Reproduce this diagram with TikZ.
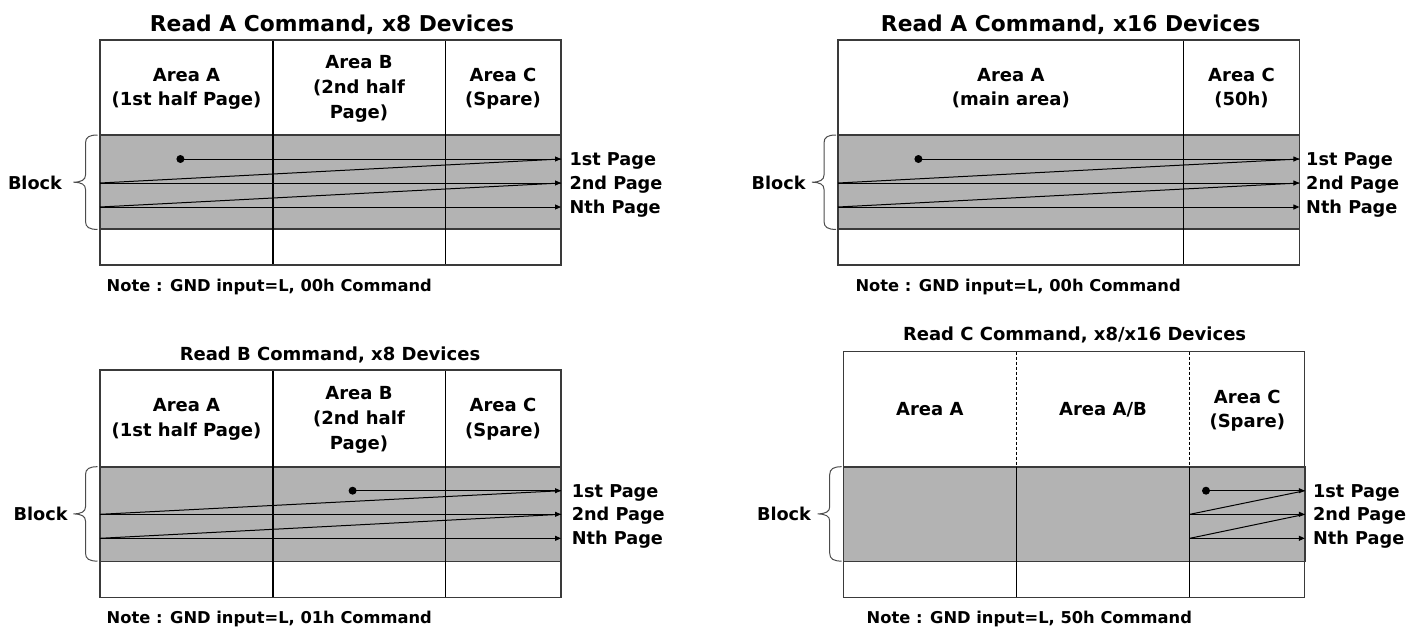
\documentclass[tikz,border=0pt]{standalone}
\usepackage{fontspec}
\setmainfont{DejaVu Sans}
\usetikzlibrary{arrows.meta}
\definecolor{bandgray}{HTML}{B3B3B3}
\definecolor{edgegray}{HTML}{3A3A3A}
\begin{document}
\begin{tikzpicture}[x=1pt,y=-1pt,
  ttl/.style={font=\fontsize{21.8}{24}\selectfont\bfseries, anchor=base, inner sep=0},
  sttl/.style={font=\fontsize{18}{20}\selectfont\bfseries, anchor=base, inner sep=0},
  lbl/.style={font=\fontsize{18}{20}\selectfont\bfseries, anchor=base, inner sep=0},
  pg/.style={font=\fontsize{17.7}{20}\selectfont\bfseries, anchor=base west, inner sep=0},
  blk/.style={font=\fontsize{17.7}{20}\selectfont\bfseries, anchor=base, inner sep=0},
  note/.style={font=\fontsize{16.3}{18}\selectfont\bfseries, anchor=base west, inner sep=0},
  band/.style={fill=bandgray, draw=edgegray, line width=1.6pt},
  frame/.style={draw=edgegray, line width=1.2pt},
  col/.style={draw=black, line width=1.1pt},
  dcol/.style={draw=black, line width=0.9pt, dash pattern=on 3pt off 2pt},
  trace/.style={draw=black, line width=1pt},
  arr/.style={trace, -{Triangle[length=6pt,width=5pt]}},
  dotn/.style={circle, fill=black, inner sep=0, minimum size=8pt},
  brc/.style={draw=black!70, line width=1pt},
  brace/.pic={\draw[brc] (0,0) .. controls (-8,0) and (-12,2) .. (-12,8) -- (-12,40)
     .. controls (-12,45) and (-16,47) .. (-24,47.2)
     .. controls (-16,47.4) and (-12,49.4) .. (-12,54.4) -- (-12,86.4)
     .. controls (-12,92.4) and (-8,94.4) .. (0,94.4);},
]
\useasboundingbox (0,0) rectangle (1427,632);

% ================= Top-left: Read A, x8 =================
\node[ttl] (t1) at (332,31) {Read A Command, x8 Devices};
\draw[band] (100,135) rectangle (561,229);
\draw[col] (273,40) -- (273,265);
\draw[col] (445.5,40) -- (445.5,265);
\draw[frame] (100,40) rectangle (561,265);
\node[lbl] (a1a) at (186.5,81) {Area A};
\node[lbl] (a1b) at (186.5,105.5) {(1st half Page)};
\node[lbl] (b1a) at (359,68.6) {Area B};
\node[lbl] (b1b) at (359,93.6) {(2nd half};
\node[lbl] (b1c) at (359,118.6) {Page)};
\node[lbl] (c1a) at (503,81) {Area C};
\node[lbl] (c1b) at (503,105.5) {(Spare)};
\node[dotn] (d1) at (180.4,159) {};
\coordinate (e1a) at (561,159);
\coordinate (e1b) at (561,183);
\coordinate (e1c) at (561,207);
\coordinate (s1b) at (100,183);
\coordinate (s1c) at (100,207);
\draw[arr] (d1.center) -- (e1a);
\draw[trace] (s1b) -- (e1a);
\draw[arr] (s1b) -- (e1b);
\draw[trace] (s1c) -- (e1b);
\draw[arr] (s1c) -- (e1c);
\node[pg] (p1a) at (569.3,165.5) {1st Page};
\node[pg] (p1b) at (569.3,189.5) {2nd Page};
\node[pg] (p1c) at (569.3,213.5) {Nth Page};
\pic at (97.5,135) {brace};
\node[blk] (k1) at (35,189.2) {Block};
\node[note] (n1) at (106.5,291.6) {Note : GND input=L, 00h Command};

% ================= Top-right: Read A, x16 =================
\node[ttl] (t2) at (1070.6,31) {Read A Command, x16 Devices};
\draw[band] (838,135) rectangle (1299.4,229);
\draw[col] (1183.5,40) -- (1183.5,265);
\draw[frame] (838,40) rectangle (1299.4,265);
\node[lbl] (a2a) at (1010.8,81) {Area A};
\node[lbl] (a2b) at (1010.8,105.5) {(main area)};
\node[lbl] (c2a) at (1241.5,81) {Area C};
\node[lbl] (c2b) at (1241.5,105.5) {(50h)};
\node[dotn] (d2) at (918.4,159) {};
\coordinate (e2a) at (1299.4,159);
\coordinate (e2b) at (1299.4,183);
\coordinate (e2c) at (1299.4,207);
\coordinate (s2b) at (838,183);
\coordinate (s2c) at (838,207);
\draw[arr] (d2.center) -- (e2a);
\draw[trace] (s2b) -- (e2a);
\draw[arr] (s2b) -- (e2b);
\draw[trace] (s2c) -- (e2b);
\draw[arr] (s2c) -- (e2c);
\node[pg] (p2a) at (1306,165.5) {1st Page};
\node[pg] (p2b) at (1306,189.5) {2nd Page};
\node[pg] (p2c) at (1306,213.5) {Nth Page};
\pic at (836,135) {brace};
\node[blk] (k2) at (778.6,189.2) {Block};
\node[note] (n2) at (855.3,291.6) {Note : GND input=L, 00h Command};

% ================= Bottom-left: Read B, x8 =================
\node[sttl] (t3) at (330,360) {Read B Command, x8 Devices};
\draw[band] (100,466.7) rectangle (561,561.3);
\draw[col] (273,370) -- (273,597.3);
\draw[col] (445.5,370) -- (445.5,597.3);
\draw[frame] (100,370) rectangle (561,597.3);
\node[lbl] (a3a) at (186.5,411.5) {Area A};
\node[lbl] (a3b) at (186.5,436.5) {(1st half Page)};
\node[lbl] (b3a) at (359,399.2) {Area B};
\node[lbl] (b3b) at (359,424.2) {(2nd half};
\node[lbl] (b3c) at (359,449.2) {Page)};
\node[lbl] (c3a) at (503,411.5) {Area C};
\node[lbl] (c3b) at (503,436.5) {(Spare)};
\node[dotn] (d3) at (352.6,490.7) {};
\coordinate (e3a) at (561,490.7);
\coordinate (e3b) at (561,514.3);
\coordinate (e3c) at (561,538.3);
\coordinate (s3b) at (100,514.3);
\coordinate (s3c) at (100,538.3);
\draw[arr] (d3.center) -- (e3a);
\draw[trace] (s3b) -- (e3a);
\draw[arr] (s3b) -- (e3b);
\draw[trace] (s3c) -- (e3b);
\draw[arr] (s3c) -- (e3c);
\node[pg] (p3a) at (571.6,497.2) {1st Page};
\node[pg] (p3b) at (571.6,520.8) {2nd Page};
\node[pg] (p3c) at (571.6,544.8) {Nth Page};
\pic at (97.5,466.7) {brace};
\node[blk] (k3) at (40.6,520.8) {Block};
\node[note] (n3) at (106.5,623.6) {Note : GND input=L, 01h Command};

% ================= Bottom-right: Read C, x8/x16 =================
\node[sttl] (t4) at (1074.6,340.7) {Read C Command, x8/x16 Devices};
\draw[band] (843.5,466.7) rectangle (1304.8,561.3);
\draw[dcol] (1016.2,351.7) -- (1016.2,466.7);
\draw[dcol] (1189.8,351.7) -- (1189.8,466.7);
\draw[col] (1016.2,466.7) -- (1016.2,597.3);
\draw[col] (1189.8,466.7) -- (1189.8,597.3);
\draw[frame] (843.5,351.7) rectangle (1304.8,597.3);
\node[lbl] (a4a) at (929.8,415.8) {Area A};
\node[lbl] (b4a) at (1103,415.8) {Area A/B};
\node[lbl] (c4a) at (1247.3,403.2) {Area C};
\node[lbl] (c4b) at (1247.3,427.5) {(Spare)};
\node[dotn] (d4) at (1206,490.7) {};
\coordinate (e4a) at (1304.8,490.7);
\coordinate (e4b) at (1304.8,514.3);
\coordinate (e4c) at (1304.8,538.3);
\coordinate (s4b) at (1189.8,514.3);
\coordinate (s4c) at (1189.8,538.3);
\draw[arr] (d4.center) -- (e4a);
\draw[trace] (s4b) -- (e4a);
\draw[arr] (s4b) -- (e4b);
\draw[trace] (s4c) -- (e4b);
\draw[arr] (s4c) -- (e4c);
\node[pg] (p4a) at (1312.9,497.2) {1st Page};
\node[pg] (p4b) at (1312.9,520.8) {2nd Page};
\node[pg] (p4c) at (1312.9,544.8) {Nth Page};
\pic at (841.7,466.7) {brace};
\node[blk] (k4) at (784,520.8) {Block};
\node[note] (n4) at (866.5,623.6) {Note : GND input=L, 50h Command};
\end{tikzpicture}
\end{document}
